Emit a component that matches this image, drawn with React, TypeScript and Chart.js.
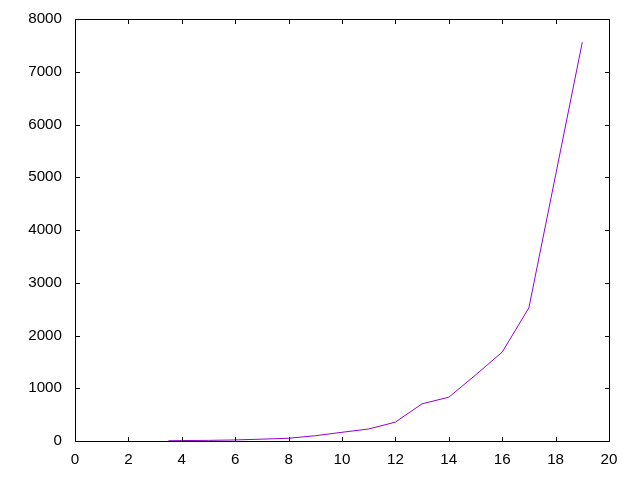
import React, { useEffect, useRef } from "react";
import { Chart, registerables } from "chart.js";

Chart.register(...registerables);

const xValues = [3.5, 4, 5, 6, 7, 8, 9, 10, 11, 12, 13, 14, 15, 16, 17, 18, 19];
const yValues = [5, 8, 12, 20, 35, 52, 100, 165, 228, 358, 705, 830, 1250, 1685, 2525, 5040, 7560];
const xTicks = [0, 2, 4, 6, 8, 10, 12, 14, 16, 18, 20];
const yTicks = [0, 1000, 2000, 3000, 4000, 5000, 6000, 7000, 8000];

const LINE_COLOR = "#9400d3";
const FONT = { family: "'Liberation Sans', Arial, sans-serif", size: 15.2 };

const framePlugin = {
  id: "gnuFrame",
  afterDatasetsDraw(chart: any) {
    const { ctx, chartArea } = chart;
    const xs = chart.scales.x;
    const ys = chart.scales.y;
    const l = Math.round(chartArea.left) + 0.5;
    const r = Math.round(chartArea.right) + 0.5;
    const t = Math.round(chartArea.top) + 0.5;
    const b = Math.round(chartArea.bottom) + 0.5;
    const tl = 4.5;
    ctx.save();
    ctx.strokeStyle = "#000";
    ctx.lineWidth = 1;
    ctx.beginPath();
    ctx.rect(l, t, r - l, b - t);
    for (const v of xTicks) {
      const px = Math.round(xs.getPixelForValue(v)) + 0.5;
      ctx.moveTo(px, b);
      ctx.lineTo(px, b - tl);
      ctx.moveTo(px, t);
      ctx.lineTo(px, t + tl);
    }
    for (const v of yTicks) {
      const py = Math.round(ys.getPixelForValue(v)) + 0.5;
      ctx.moveTo(l, py);
      ctx.lineTo(l + tl, py);
      ctx.moveTo(r, py);
      ctx.lineTo(r - tl, py);
    }
    ctx.stroke();
    ctx.restore();
  },
};

export default function App() {
  const ref = useRef<HTMLCanvasElement>(null);
  useEffect(() => {
    if (!ref.current) return;
    const chart = new Chart(ref.current, {
      type: "line",
      data: {
        datasets: [
          {
            data: xValues.map((x, i) => ({ x, y: yValues[i] })),
            borderColor: LINE_COLOR,
            borderWidth: 1,
            pointRadius: 0,
            fill: false,
            tension: 0,
          },
        ],
      },
      options: {
        animation: false,
        responsive: false,
        plugins: { legend: { display: false }, tooltip: { enabled: false } },
        layout: { padding: { top: 19, right: 31, left: 0, bottom: 0 } },
        scales: {
          x: {
            type: "linear",
            min: 0,
            max: 20,
            afterFit: (s: any) => {
              s.height = 39;
              s.paddingLeft = 0;
              s.paddingRight = 0;
              s.paddingTop = 0;
              s.paddingBottom = 0;
            },
            afterBuildTicks: (s: any) => {
              s.ticks = xTicks.map((v) => ({ value: v }));
            },
            grid: { display: false, drawTicks: false },
            border: { display: false },
            ticks: {
              color: "#000",
              font: FONT,
              padding: 10,
              maxRotation: 0,
              callback: (v: any) => String(v),
            },
          },
          y: {
            type: "linear",
            min: 0,
            max: 8000,
            afterFit: (s: any) => {
              s.width = 75;
              s.paddingLeft = 0;
              s.paddingRight = 0;
              s.paddingTop = 0;
              s.paddingBottom = 0;
            },
            afterBuildTicks: (s: any) => {
              s.ticks = yTicks.map((v) => ({ value: v }));
            },
            grid: { display: false, drawTicks: false },
            border: { display: false },
            ticks: {
              color: "#000",
              font: FONT,
              padding: 13,
              callback: (v: any) => String(v),
            },
          },
        },
      },
      plugins: [framePlugin],
    });
    return () => chart.destroy();
  }, []);
  return (
    <div style={{ position: "absolute", left: 0, top: 0, width: 640, height: 480, background: "#fff" }}>
      <canvas ref={ref} width={640} height={480} style={{ display: "block" }} />
    </div>
  );
}
